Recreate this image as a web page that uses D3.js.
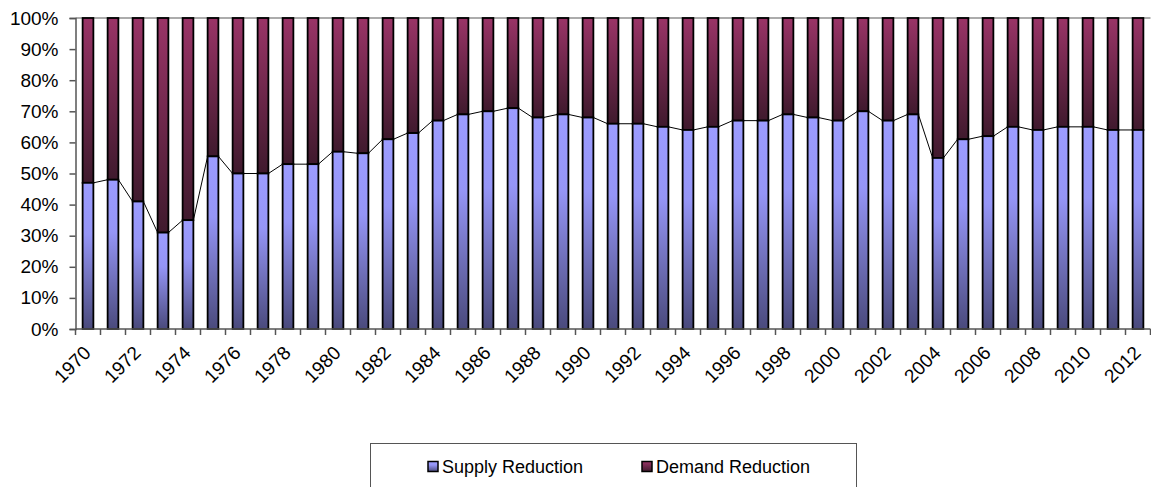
<!DOCTYPE html>
<html>
<head>
<meta charset="utf-8">
<script src="https://cdn.jsdelivr.net/npm/d3@7"></script>
<style>
  html, body { margin: 0; padding: 0; background: #fff; }
  svg { display: block; font-family: Arial, "Liberation Sans", sans-serif; }
</style>
</head>
<body>
<svg id="chart" width="1151" height="487"></svg>
<script>
const years = d3.range(1970, 2013);
const supply = [47, 48, 41, 31, 35, 55.5, 50, 50, 53, 53,
                57, 56.5, 61, 63, 67, 69, 70, 71, 68, 69,
                68, 66, 66, 65, 64, 65, 67, 67, 69, 68,
                67, 70, 67, 69, 55, 61, 62, 65, 64, 65,
                65, 64, 64];
const demand = supply.map(v => 100 - v);
const yTicks = [0, 10, 20, 30, 40, 50, 60, 70, 80, 90, 100];
const seriesNames = ["Supply Reduction", "Demand Reduction"];

(function () {
const svg = d3.select("#chart");
const pL = 75.5, pR = 1150.5, pT = 18, pB = 329;

const x = d3.scaleBand().domain(years).range([pL, pR])
  .paddingInner(0.57).paddingOuter(0.285);
const y = d3.scaleLinear().domain([0, 100]).range([pB, pT]);
const bw = x.bandwidth();
const gap = x.step() - bw;

const defs = svg.append("defs");
const gS = defs.append("linearGradient").attr("id", "gS").attr("x1", 0).attr("y1", 0).attr("x2", 0).attr("y2", 1);
gS.append("stop").attr("offset", "0").attr("stop-color", "#9c9cff");
gS.append("stop").attr("offset", "0.35").attr("stop-color", "#9595f6");
gS.append("stop").attr("offset", "1").attr("stop-color", "#4a4a7c");
const gD = defs.append("linearGradient").attr("id", "gD").attr("x1", 0).attr("y1", 0).attr("x2", 0).attr("y2", 1);
gD.append("stop").attr("offset", "0").attr("stop-color", "#9a3467");
gD.append("stop").attr("offset", "1").attr("stop-color", "#3f1a2d");

// plot area top border
svg.append("line").attr("x1", pL).attr("x2", pR).attr("y1", pT).attr("y2", pT)
  .attr("stroke", "#909090").attr("stroke-width", 1.5);

// bars
const g = svg.append("g");
years.forEach((yr, i) => {
  g.append("rect").attr("x", x(yr)).attr("y", y(100)).attr("width", bw)
    .attr("height", y(supply[i]) - y(100))
    .attr("fill", "url(#gD)").attr("stroke", "#000").attr("stroke-width", 1.8);
  g.append("rect").attr("x", x(yr)).attr("y", y(supply[i])).attr("width", bw)
    .attr("height", y(0) - y(supply[i]))
    .attr("fill", "url(#gS)").attr("stroke", "#000").attr("stroke-width", 1.8);
});

// series lines
for (let i = 0; i < years.length - 1; i++) {
  g.append("line")
    .attr("x1", x(years[i]) + bw).attr("y1", y(supply[i]))
    .attr("x2", x(years[i + 1])).attr("y2", y(supply[i + 1]))
    .attr("stroke", "#000").attr("stroke-width", 1);
}

// y axis
const yAxis = svg.append("g").attr("transform", `translate(${pL},0)`)
  .call(d3.axisLeft(y).tickValues(yTicks).tickFormat(d => d + "%").tickSize(6).tickPadding(11));
yAxis.select(".domain").attr("stroke", "#555").attr("stroke-width", 1.5);
yAxis.selectAll(".tick line").attr("stroke", "#555").attr("stroke-width", 1.5);
yAxis.selectAll("text").attr("font-size", 19).attr("fill", "#000")
  .attr("font-family", "Arial, 'Liberation Sans', sans-serif");

// x axis
const xg = svg.append("g");
xg.append("line").attr("x1", pL).attr("x2", pR).attr("y1", pB).attr("y2", pB)
  .attr("stroke", "#555").attr("stroke-width", 1.5);
years.concat([2013]).forEach((yr, i) => {
  const tx = i < years.length ? x(yr) - gap / 2 : x(years[years.length - 1]) + bw + gap / 2;
  xg.append("line").attr("x1", tx).attr("x2", tx).attr("y1", pB).attr("y2", pB + 6)
    .attr("stroke", "#555").attr("stroke-width", 1.5);
});
years.filter(yr => yr % 2 === 0).forEach(yr => {
  const cx = x(yr) + bw / 2 + 4;
  xg.append("text").attr("transform", `translate(${cx},354) rotate(-45)`)
    .attr("text-anchor", "end").attr("font-size", 19).attr("fill", "#000").text(yr);
});

// legend
const lg = svg.append("g");
lg.append("rect").attr("x", 370.5).attr("y", 443.5).attr("width", 486).attr("height", 60)
  .attr("fill", "#fff").attr("stroke", "#555").attr("stroke-width", 1);
const items = [{ name: seriesNames[0], fill: "url(#gS)", x: 428 }, { name: seriesNames[1], fill: "url(#gD)", x: 642 }];
items.forEach(it => {
  lg.append("rect").attr("x", it.x).attr("y", 461.5).attr("width", 10).attr("height", 10)
    .attr("fill", it.fill).attr("stroke", "#000").attr("stroke-width", 1.5);
  lg.append("text").attr("x", it.x + 14).attr("y", 473).attr("font-size", 18).attr("fill", "#000").text(it.name);
});
})();
</script>
</body>
</html>
